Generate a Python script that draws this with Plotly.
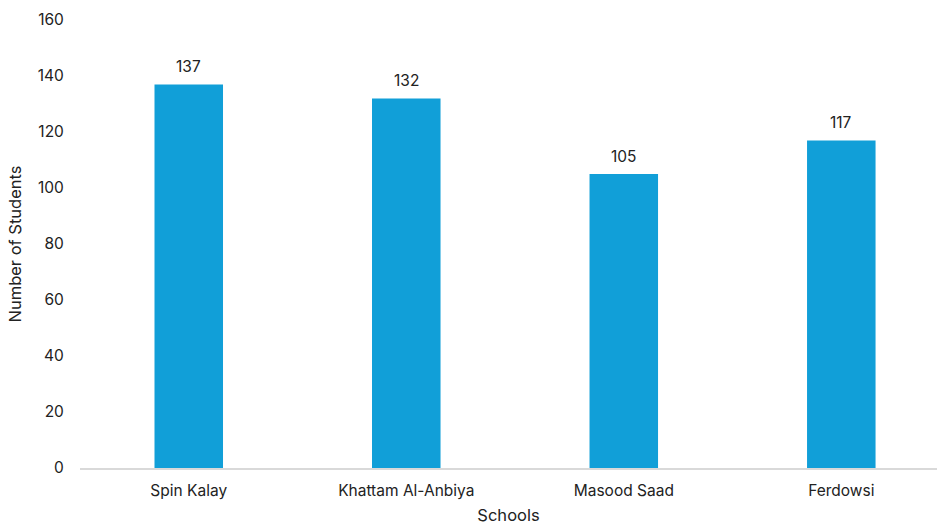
import plotly.graph_objects as go

schools = ["Spin Kalay", "Khattam Al-Anbiya", "Masood Saad", "Ferdowsi"]
students = [137, 132, 105, 117]
y_ticks = [0, 20, 40, 60, 80, 100, 120, 140, 160]

FONT = "Inter, Liberation Sans, Arial, sans-serif"

fig = go.Figure()
fig.add_trace(go.Bar(
    x=schools, y=students,
    marker=dict(color="#119FD8", line=dict(width=0)),
    width=0.315,
    showlegend=False,
))
for s, v in zip(schools, students):
    fig.add_annotation(x=s, y=v, text=str(v), showarrow=False,
                       yanchor="bottom", yshift=6,
                       font=dict(family=FONT, size=15.5, color="#222222"))

fig.update_layout(
    width=937, height=525,
    margin=dict(l=80, r=0, t=20, b=57),
    paper_bgcolor="white", plot_bgcolor="white",
    font=dict(family=FONT, size=15.5, color="#222222"),
    xaxis=dict(
        range=[-0.5, 3.44],
        showline=True, linecolor="#d9d9d9", linewidth=1.5,
        showgrid=False, ticks="outside", ticklen=8, tickcolor="rgba(0,0,0,0)",
        tickfont=dict(size=15.5),
        title=dict(text="Schools", font=dict(size=16.5), standoff=14),
    ),
    yaxis=dict(
        range=[0, 160], tickvals=y_ticks,
        showline=False, showgrid=False, zeroline=False,
        ticks="outside", ticklen=12, tickcolor="rgba(0,0,0,0)",
        tickfont=dict(size=15.5),
        title=dict(text="Number of Students", font=dict(size=16.5), standoff=12),
    ),
)
fig.write_html("out.html")
